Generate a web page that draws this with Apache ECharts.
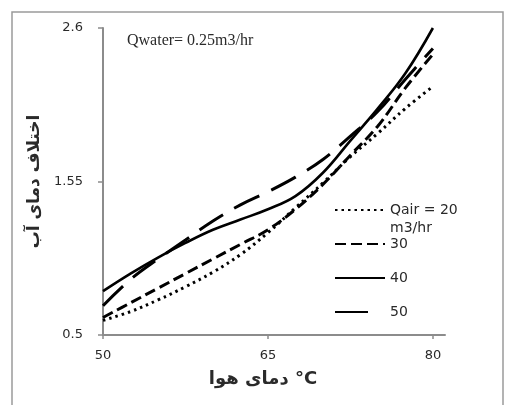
<!DOCTYPE html>
<html>
<head>
<meta charset="utf-8">
<script src="https://cdn.jsdelivr.net/npm/echarts@6.0.0/dist/echarts.min.js"></script>
<style>
  html, body { margin: 0; padding: 0; background: #fff; }
  #chart { width: 506px; height: 405px; }
</style>
</head>
<body>
<div id="chart"></div>
<script>
// Air temperature (°C) along the x axis
const airTemp = [50, 52.5, 55, 57.5, 60, 62.5, 65, 67.5, 70, 72.5, 75, 77.5, 80];

// Water temperature difference for each air flow rate (m3/hr)
const qair20 = [0.60, 0.66, 0.74, 0.83, 0.93, 1.05, 1.20, 1.37, 1.54, 1.72, 1.88, 2.05, 2.20];
const qair30 = [0.62, 0.72, 0.82, 0.92, 1.02, 1.12, 1.22, 1.36, 1.53, 1.73, 1.93, 2.19, 2.42];
const qair40 = [0.80, 0.92, 1.03, 1.13, 1.22, 1.29, 1.36, 1.45, 1.61, 1.83, 2.05, 2.29, 2.60];
const qair50 = [0.70, 0.88, 1.02, 1.15, 1.28, 1.39, 1.48, 1.58, 1.70, 1.86, 2.03, 2.25, 2.46];

const seriesNames = ['Qair = 20', '30', '40', '50'];
const xTicks = [50, 65, 80];
const yTicks = [0.5, 1.55, 2.6];

const pairs = arr => airTemp.map((x, i) => [x, arr[i]]);

const lineStyles = [
  { type: [2.5, 4], width: 3, cap: 'butt' },
  { type: [11, 5], width: 3, cap: 'butt' },
  { type: 'solid', width: 2.6 },
  { type: [28, 13], width: 3, cap: 'butt' }
];
const dataSets = [qair20, qair30, qair40, qair50];

const axisColor = '#8c8c8c';
const textColor = '#2a2a2a';

const chart = echarts.init(document.getElementById('chart'), null, { renderer: 'canvas' });

chart.setOption({
  animation: false,
  backgroundColor: '#fff',
  grid: { left: 103, top: 28, right: 61, bottom: 70 },
  graphic: [
    {
      type: 'rect',
      shape: { x: 12, y: 12, width: 491, height: 420 },
      style: { fill: 'none', stroke: '#9a9a9a', lineWidth: 1.5 },
      silent: true
    },
    {
      type: 'text',
      left: 127, top: 33,
      style: { text: 'Qwater= 0.25m3/hr', font: '16px "Liberation Serif", serif', fill: textColor }
    },
    {
      type: 'text',
      left: 390, top: 221,
      style: { text: 'm3/hr', font: '14px "DejaVu Sans", sans-serif', fill: textColor }
    }
  ],
  legend: {
    orient: 'vertical',
    left: 329,
    top: 198,
    itemWidth: 50,
    itemHeight: 14,
    itemGap: 20,
    itemStyle: { color: 'rgba(0,0,0,0)', borderColor: 'rgba(0,0,0,0)', borderWidth: 0 },
    textStyle: { fontFamily: 'DejaVu Sans', fontSize: 14, color: textColor },
    data: [
      { name: seriesNames[0] },
      { name: seriesNames[1] },
      { name: seriesNames[2] },
      { name: seriesNames[3], lineStyle: { type: [33, 30] } }
    ]
  },
  xAxis: {
    type: 'value',
    min: 50,
    max: 81.1,
    name: 'دمای هوا °C',
    nameLocation: 'middle',
    nameGap: 35,
    nameTextStyle: { fontFamily: 'DejaVu Sans', fontSize: 18, fontWeight: 'bold', color: textColor, padding: [0, 22, 0, 0] },
    axisLine: { show: true, lineStyle: { color: axisColor, width: 2 } },
    axisTick: { show: true, length: 4, customValues: xTicks, lineStyle: { color: axisColor, width: 1.5 } },
    axisLabel: { customValues: xTicks, margin: 14, fontFamily: 'DejaVu Sans', fontSize: 13, color: textColor },
    splitLine: { show: false }
  },
  yAxis: {
    type: 'value',
    min: 0.5,
    max: 2.6,
    name: 'اختلاف دمای آب',
    nameLocation: 'middle',
    nameGap: 48,
    nameTextStyle: { fontFamily: 'DejaVu Sans', fontSize: 17, fontWeight: 'bold', color: textColor },
    axisLine: { show: true, lineStyle: { color: axisColor, width: 2 } },
    axisTick: { show: true, length: 5, customValues: yTicks, lineStyle: { color: axisColor, width: 1.5 } },
    axisLabel: { customValues: yTicks, margin: 20, fontFamily: 'DejaVu Sans', fontSize: 13, color: textColor },
    splitLine: { show: false }
  },
  series: dataSets.map((arr, i) => ({
    name: seriesNames[i],
    type: 'line',
    smooth: 0.4,
    symbol: 'none',
    data: pairs(arr),
    itemStyle: { color: '#000' },
    lineStyle: Object.assign({ color: '#000' }, lineStyles[i])
  }))
});
</script>
</body>
</html>
